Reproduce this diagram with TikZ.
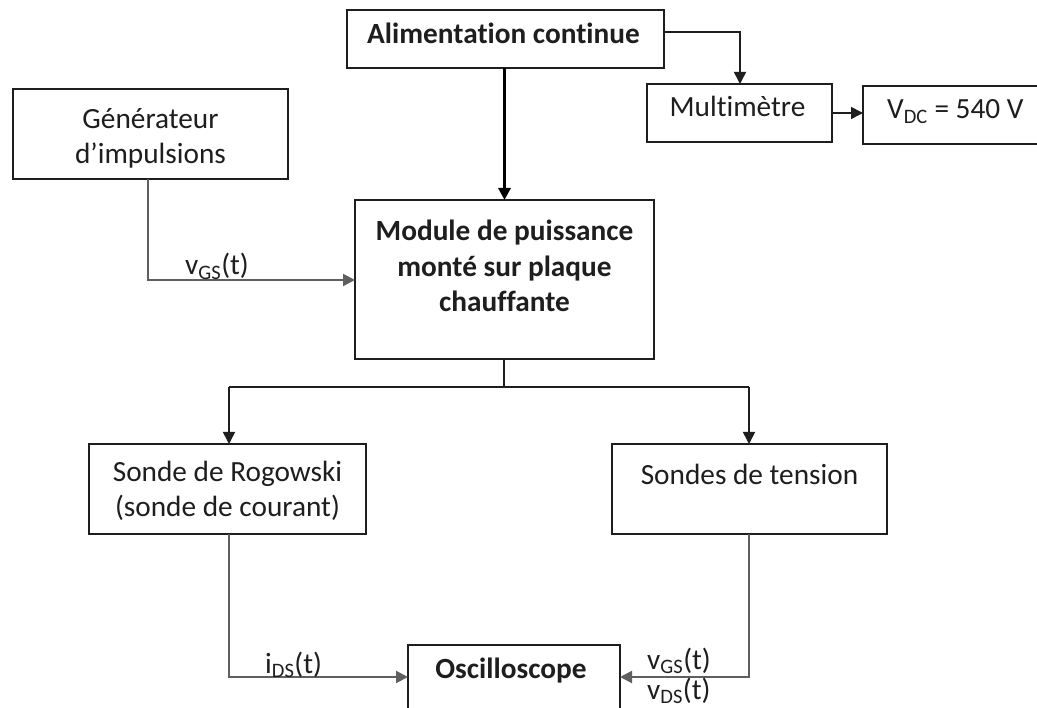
\documentclass[tikz,border=0pt]{standalone}
\usepackage{fontspec}
\setmainfont{Carlito}[Ligatures={NoCommon}]
\usetikzlibrary{arrows.meta}
\definecolor{boxc}{RGB}{30,30,30}
\definecolor{grayc}{RGB}{95,95,95}
\newcommand{\fsz}{\fontsize{29.3}{35.8}\selectfont}
\begin{document}
\begin{tikzpicture}[x=1pt,y=-1pt,
  box/.style={draw=boxc, line width=1.6pt, rectangle, inner sep=0pt, outer sep=0pt},
  txt/.style={inner sep=0pt, anchor=base, font=\fsz, align=center, text=boxc},
  btxt/.style={txt, font=\fsz\bfseries},
  conn/.style={draw=boxc, line width=1.6pt},
  thickconn/.style={draw=black, line width=3pt},
  gconn/.style={draw=grayc, line width=2pt},
  arr/.style={-{Triangle[length=12pt,width=12pt]}}
]
\clip (0,0) rectangle (1037,708);
\fill[white] (0,0) rectangle (1037,708);

% boxes
\node[box, minimum width=317, minimum height=58] (alim) at (505.5,39) {};
\node[box, minimum width=185, minimum height=58] (multi) at (739.5,113) {};
\node[box, minimum width=207, minimum height=58] (vdc) at (966.5,115) {};
\node[box, minimum width=275, minimum height=90] (gen) at (150.5,134) {};
\node[box, minimum width=299, minimum height=159] (mod) at (504.5,279.5) {};
\node[box, minimum width=277, minimum height=90] (rog) at (227.5,489) {};
\node[box, minimum width=275, minimum height=90] (ten) at (749.5,489) {};
\node[box, minimum width=212, minimum height=75] (osc) at (514,682.5) {};

% texts (base anchor = baseline of last line)
\node[btxt] (alimT) at (503.5,44) {Alimentation continue};
\node[txt] (multiT) at (737.5,117) {Multimètre};
\node[txt, anchor=base west] (vdcT) at (887,119) {V\textsubscript{DC} = 540 V};
\node[txt] (genT) at (150.5,164) {Générateur\\d’impulsions};
\node[btxt] (modT) at (504.5,312) {Module de puissance\\monté sur plaque\\chauffante};
\node[txt] (rogT) at (227.5,517) {Sonde de Rogowski\\(sonde de courant)};
\node[txt] (tenT) at (749.5,485) {Sondes de tension};
\node[btxt] (oscT) at (511,678) {Oscilloscope};

% connectors
\draw[thickconn, arr] (alim.south -| mod.north) -- (mod.north);
\coordinate (amc) at (740,32);
\draw[conn, arr] (alim.east |- amc) -- (amc) -- (amc |- multi.north);
\draw[conn, arr] (multi.east) -- (multi.east -| vdc.west);

\coordinate (g1) at (148,280);
\draw[gconn, arr] (gen.south -| g1) -- (g1) -- (g1 -| mod.west);

\coordinate (split) at (504,387);
\coordinate (sl) at (229,387);
\coordinate (sr) at (749,387);
\draw[conn] (mod.south -| split) -- (split);
\draw[conn] (sl) -- (sr);
\draw[conn, arr] (sl) -- (sl |- rog.north);
\draw[conn, arr] (sr) -- (sr |- ten.north);

\coordinate (r1) at (229,677);
\draw[gconn, arr] (rog.south -| r1) -- (r1) -- (r1 -| osc.west);
\coordinate (t1) at (749,677);
\draw[gconn, arr] (ten.south -| t1) -- (t1) -- (t1 -| osc.east);

% labels
\node[txt, anchor=base west] (lvgs) at (185,275) {v\textsubscript{GS}(t)};
\node[txt, anchor=base west] (lids) at (265,673) {i\textsubscript{DS}(t)};
\node[txt, anchor=base west] (lvgs2) at (647,669) {v\textsubscript{GS}(t)};
\node[txt, anchor=base west] (lvds) at (647,699) {v\textsubscript{DS}(t)};
\end{tikzpicture}
\end{document}
